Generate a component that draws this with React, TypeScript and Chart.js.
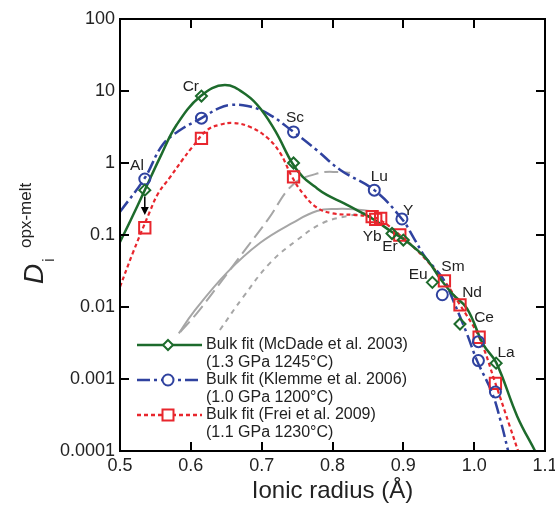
import React, { useEffect, useRef } from 'react';
import { Chart, registerables } from 'chart.js';

Chart.register(...registerables);

// ---- axis ticks ----
const xTickValues = [0.5, 0.6, 0.7, 0.8, 0.9, 1.0, 1.1];
const xTickLabels = ['0.5', '0.6', '0.7', '0.8', '0.9', '1.0', '1.1'];
const yTickValues = [0.0001, 0.001, 0.01, 0.1, 1, 10, 100];
const yTickLabels = ['0.0001', '0.001', '0.01', '0.1', '1', '10', '100'];

// ---- bulk fit curves ----
const mcdadeFitR = [0.5, 0.515, 0.535, 0.556, 0.58, 0.614, 0.648, 0.68, 0.70, 0.72, 0.743, 0.758, 0.775, 0.792, 0.815, 0.839, 0.86, 0.884, 0.9, 0.917, 0.934, 0.953, 0.97, 0.99, 1.013, 1.031, 1.061, 1.086];
const mcdadeFitD = [0.08, 0.16, 0.42, 1.17, 3.4, 8.5, 12.1, 8.6, 5.4, 2.7, 1.0, 0.64, 0.47, 0.36, 0.28, 0.21, 0.16, 0.11, 0.088, 0.065, 0.045, 0.024, 0.015, 0.0095, 0.003, 0.0017, 0.0003, 0.0001];

const klemmeFitR = [0.5, 0.535, 0.56, 0.585, 0.615, 0.64, 0.655, 0.68, 0.708, 0.745, 0.778, 0.811, 0.859, 0.898, 0.915, 0.931, 0.945, 0.958, 0.973, 0.99, 1.004, 1.025, 1.037, 1.048];
const klemmeFitD = [0.21, 0.62, 1.78, 2.87, 4.2, 5.8, 6.4, 6.2, 4.9, 2.7, 1.5, 0.8, 0.42, 0.167, 0.09, 0.049, 0.034, 0.023, 0.0107, 0.0042, 0.0018, 0.00065, 0.00027, 0.0001];

const freiFitR = [0.5, 0.518, 0.542, 0.554, 0.571, 0.588, 0.602, 0.623, 0.641, 0.66, 0.684, 0.708, 0.726, 0.743, 0.758, 0.778, 0.80, 0.83, 0.853, 0.868, 0.895, 0.92, 0.94, 0.958, 0.98, 1.007, 1.03, 1.051, 1.062];
const freiFitD = [0.019, 0.056, 0.21, 0.38, 0.64, 1.1, 1.66, 2.87, 3.4, 3.6, 3.16, 2.24, 1.38, 0.64, 0.38, 0.24, 0.2, 0.19, 0.18, 0.16, 0.1, 0.06, 0.037, 0.023, 0.0107, 0.0038, 0.00087, 0.00021, 0.0001];

// ---- grey component curves ----
const greySolidR = [0.583, 0.603, 0.651, 0.698, 0.745, 0.778, 0.806, 0.83, 0.853];
const greySolidD = [0.0043, 0.0083, 0.03, 0.078, 0.15, 0.215, 0.23, 0.228, 0.215];

const greyDashR = [0.585, 0.609, 0.65, 0.68, 0.71, 0.744, 0.78, 0.81, 0.825];
const greyDashD = [0.0045, 0.0083, 0.028, 0.069, 0.17, 0.5, 0.72, 0.75, 0.73];

const greyDotR = [0.641, 0.674, 0.712, 0.75, 0.787, 0.829, 0.846];
const greyDotD = [0.0048, 0.0138, 0.041, 0.085, 0.148, 0.19, 0.2];

// ---- measured partition coefficients ----
const mcdadeR = [0.535, 0.615, 0.745, 0.884, 0.9, 0.941, 0.98, 1.031];
const mcdadeD = [0.42, 8.5, 1.0, 0.105, 0.085, 0.022, 0.0058, 0.00166];

const klemmeR = [0.535, 0.615, 0.745, 0.859, 0.898, 0.955, 1.006, 1.006, 1.03];
const klemmeD = [0.6, 4.2, 2.7, 0.42, 0.167, 0.0148, 0.0033, 0.0018, 0.00066];

const freiR = [0.535, 0.615, 0.745, 0.856, 0.861, 0.868, 0.895, 0.958, 0.98, 1.007, 1.03];
const freiD = [0.126, 2.2, 0.64, 0.18, 0.165, 0.17, 0.1, 0.023, 0.0107, 0.0038, 0.00087];

// ---- Al upper-limit arrow ----
const alArrowR = 0.535;
const alArrowFromD = 0.34;
const alArrowToD = 0.19;

// ---- element labels ----
const elementNames = ['Al', 'Cr', 'Sc', 'Lu', 'Y', 'Yb', 'Er', 'Eu', 'Sm', 'Nd', 'Ce', 'La'];
const elementLabelR = [0.524, 0.6, 0.747, 0.866, 0.907, 0.856, 0.881, 0.921, 0.97, 0.997, 1.014, 1.045];
const elementLabelD = [0.91, 11.4, 4.2, 0.64, 0.22, 0.094, 0.068, 0.0278, 0.036, 0.0156, 0.00703, 0.0023];

// ---- legend ----
const legendLine1 = ['Bulk fit (McDade et al. 2003)', 'Bulk fit (Klemme et al. 2006)', 'Bulk fit (Frei et al. 2009)'];
const legendLine2 = ['(1.3 GPa 1245°C)', '(1.0 GPa 1200°C)', '(1.1 GPa 1230°C)'];

const GREEN = '#1d6b2c';
const BLUE = '#2f429f';
const RED = '#e8262d';
const GREY = '#a6a6a6';
const FONT = '"Liberation Sans", Arial, Helvetica, sans-serif';

const DASH_BLUE = [13, 4, 3, 4];
const DASH_RED = [4, 3];

const pts = (xs: number[], ys: number[]) => xs.map((x, i) => ({ x, y: ys[i] }));

function drawMarker(ctx: CanvasRenderingContext2D, kind: string, x: number, y: number, color: string) {
  ctx.save();
  ctx.setLineDash([]);
  ctx.strokeStyle = color;
  ctx.lineWidth = 2;
  ctx.beginPath();
  if (kind === 'diamond') {
    const r = 5;
    ctx.moveTo(x, y - r);
    ctx.lineTo(x + r, y);
    ctx.lineTo(x, y + r);
    ctx.lineTo(x - r, y);
    ctx.closePath();
  } else if (kind === 'circle') {
    ctx.arc(x, y, 5.5, 0, Math.PI * 2);
  } else {
    ctx.rect(x - 5.5, y - 5.5, 11, 11);
  }
  ctx.fillStyle = '#ffffff';
  ctx.fill();
  ctx.stroke();
  ctx.restore();
}

const decorPlugin = {
  id: 'decor',
  afterDatasetsDraw(chart: any) {
    const ctx: CanvasRenderingContext2D = chart.ctx;
    const xs = chart.scales.x;
    const ys = chart.scales.y;
    const a = chart.chartArea;
    ctx.save();

    // arrow
    const ax = xs.getPixelForValue(alArrowR);
    const ay0 = ys.getPixelForValue(alArrowFromD);
    const ay1 = ys.getPixelForValue(alArrowToD);
    ctx.strokeStyle = '#000';
    ctx.fillStyle = '#000';
    ctx.lineWidth = 1.5;
    ctx.beginPath();
    ctx.moveTo(ax, ay0);
    ctx.lineTo(ax, ay1 - 6);
    ctx.stroke();
    ctx.beginPath();
    ctx.moveTo(ax - 4, ay1 - 8);
    ctx.lineTo(ax + 4, ay1 - 8);
    ctx.lineTo(ax, ay1);
    ctx.closePath();
    ctx.fill();

    // element labels
    ctx.fillStyle = '#222';
    ctx.font = `15.5px ${FONT}`;
    ctx.textAlign = 'center';
    ctx.textBaseline = 'middle';
    elementNames.forEach((n, i) => {
      ctx.fillText(n, xs.getPixelForValue(elementLabelR[i]), ys.getPixelForValue(elementLabelD[i]));
    });

    // legend
    const lx0 = a.left + 17;
    const lx1 = a.left + 82;
    const mx = a.left + 48;
    const rowY = [a.bottom - 106, a.bottom - 71, a.bottom - 36];
    const colors = [GREEN, BLUE, RED];
    const dashes = [[], DASH_BLUE, DASH_RED];
    const kinds = ['diamond', 'circle', 'square'];
    rowY.forEach((y, i) => {
      ctx.save();
      ctx.strokeStyle = colors[i];
      ctx.lineWidth = 2.5;
      ctx.setLineDash(dashes[i]);
      ctx.beginPath();
      ctx.moveTo(lx0, y);
      ctx.lineTo(lx1, y);
      ctx.stroke();
      ctx.restore();
      drawMarker(ctx, kinds[i], mx, y, colors[i]);
      ctx.fillStyle = '#222';
      ctx.font = `16px ${FONT}`;
      ctx.textAlign = 'left';
      ctx.textBaseline = 'middle';
      ctx.fillText(legendLine1[i], lx1 + 4, y);
      ctx.fillText(legendLine2[i], lx1 + 4, y + 17.5);
    });

    // frame
    ctx.strokeStyle = '#000';
    ctx.lineWidth = 2;
    ctx.setLineDash([]);
    ctx.strokeRect(a.left, a.top, a.right - a.left, a.bottom - a.top);

    // ticks
    const tl = 9;
    ctx.beginPath();
    xTickValues.forEach((v) => {
      const px = Math.round(xs.getPixelForValue(v));
      ctx.moveTo(px, a.bottom);
      ctx.lineTo(px, a.bottom - tl);
      ctx.moveTo(px, a.top);
      ctx.lineTo(px, a.top + tl);
    });
    yTickValues.forEach((v) => {
      const py = Math.round(ys.getPixelForValue(v));
      ctx.moveTo(a.left, py);
      ctx.lineTo(a.left + tl, py);
      ctx.moveTo(a.right, py);
      ctx.lineTo(a.right - tl, py);
    });
    ctx.stroke();

    // tick labels
    ctx.fillStyle = '#222';
    ctx.font = `18px ${FONT}`;
    ctx.textAlign = 'center';
    ctx.textBaseline = 'top';
    xTickValues.forEach((v, i) => {
      ctx.fillText(xTickLabels[i], xs.getPixelForValue(v), a.bottom + 6);
    });
    ctx.textAlign = 'right';
    ctx.textBaseline = 'middle';
    yTickValues.forEach((v, i) => {
      ctx.fillText(yTickLabels[i], a.left - 5, ys.getPixelForValue(v));
    });

    // x title
    ctx.font = `24px ${FONT}`;
    ctx.textAlign = 'center';
    ctx.textBaseline = 'alphabetic';
    ctx.fillText('Ionic radius (Å)', (a.left + a.right) / 2, 498);

    // y title
    ctx.save();
    ctx.translate(43, 284);
    ctx.rotate(-Math.PI / 2);
    ctx.textAlign = 'left';
    ctx.textBaseline = 'alphabetic';
    ctx.font = `italic 28px ${FONT}`;
    ctx.fillText('D', 0, 0);
    ctx.font = `17px ${FONT}`;
    ctx.fillText('i', 22, 11);
    ctx.fillText('opx-melt', 36, -12);
    ctx.restore();

    ctx.restore();
  },
};

export default function App() {
  const ref = useRef<HTMLCanvasElement | null>(null);
  useEffect(() => {
    if (!ref.current) return;
    const marker = (xs: number[], ys: number[], style: string, color: string, radius: number) => ({
      data: pts(xs, ys),
      showLine: false,
      pointStyle: style,
      pointRadius: radius,
      pointBorderWidth: 2,
      pointBorderColor: color,
      pointBackgroundColor: 'rgba(255,255,255,0)',
      borderColor: color,
    });
    const curve = (xs: number[], ys: number[], color: string, width: number, dash: number[]) => ({
      data: pts(xs, ys),
      showLine: true,
      pointRadius: 0,
      borderColor: color,
      borderWidth: width,
      borderDash: dash,
      tension: 0.4,
      fill: false,
    });
    const chart = new Chart(ref.current, {
      type: 'scatter',
      data: {
        datasets: [
          marker(mcdadeR, mcdadeD, 'rectRot', GREEN, 5.5),
          marker(klemmeR, klemmeD, 'circle', BLUE, 5.5),
          marker(freiR, freiD, 'rect', RED, 8),
          curve(mcdadeFitR, mcdadeFitD, GREEN, 2.5, []),
          curve(klemmeFitR, klemmeFitD, BLUE, 2.5, DASH_BLUE),
          curve(freiFitR, freiFitD, RED, 2.2, DASH_RED),
          curve(greySolidR, greySolidD, GREY, 2, []),
          curve(greyDashR, greyDashD, GREY, 2, [14, 6]),
          curve(greyDotR, greyDotD, GREY, 2, [5, 5]),
        ] as any,
      },
      options: {
        responsive: false,
        animation: false,
        layout: { padding: { left: 120, top: 19, right: 10, bottom: 58 } },
        scales: {
          x: { type: 'linear', min: 0.5, max: 1.1, display: false },
          y: { type: 'logarithmic', min: 0.0001, max: 100, display: false },
        },
        plugins: { legend: { display: false }, tooltip: { enabled: false } },
      } as any,
      plugins: [decorPlugin],
    });
    return () => chart.destroy();
  }, []);
  return (
    <div style={{ position: 'fixed', left: 0, top: 0, width: 555, height: 509, background: '#fff' }}>
      <canvas ref={ref} width={555} height={509} style={{ width: 555, height: 509 }} />
    </div>
  );
}
